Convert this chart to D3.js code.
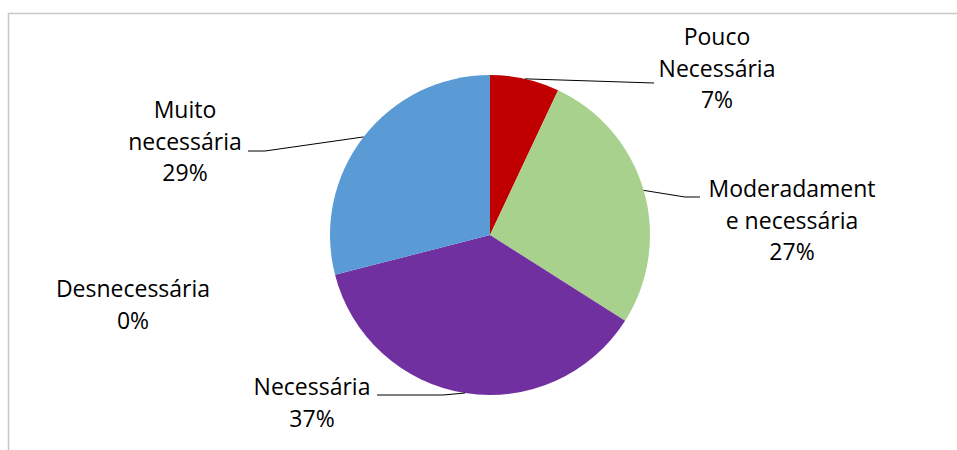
<!DOCTYPE html>
<html>
<head>
<meta charset="utf-8">
<script src="https://cdn.jsdelivr.net/npm/d3@7"></script>
<style>
  html, body { margin: 0; padding: 0; background: #fff; }
  svg { display: block; }
  text { font-family: "Open Sans", "Noto Sans", sans-serif; fill: #000; }
</style>
</head>
<body>
<svg id="chart" width="957" height="450"></svg>
<script>
// Categories in drawing order (clockwise from 12 o'clock) and their shares in %
const categories = ["Pouco Necessária", "Moderadamente necessária", "Necessária", "Desnecessária", "Muito necessária"];
const values = [7, 27, 37, 0, 29];
// Label text lines as they wrap inside each data label
const labelLines = [
  ["Pouco", "Necessária", "7%"],
  ["Moderadament", "e necessária", "27%"],
  ["Necessária", "37%"],
  ["Desnecessária", "0%"],
  ["Muito", "necessária", "29%"]
];
const colors = ["#C00000", "#A9D18E", "#7030A0", "#ED7D31", "#5B9BD5"];

// Layout: label anchors (centre x, first baseline y) and leader-line bend points
const layout = {
  cx: 490, cy: 235, r: 160,
  lineHeight: 31.6,
  labels: [
    { x: 717, y: 45, leader: [[654, 83]] },
    { x: 792, y: 197, leader: [[685, 197], [700, 197]] },
    { x: 312, y: 395, leader: [[443, 395], [377, 395]] },
    { x: 133, y: 297, leader: null },
    { x: 185, y: 118, leader: [[265, 151], [248, 151]] }
  ]
};

const svg = d3.select("#chart");

// Chart area frame
svg.append("rect")
  .attr("x", 8.5).attr("y", 13.5)
  .attr("width", 1000).attr("height", 500)
  .attr("fill", "none")
  .attr("stroke", "#c8c8c8")
  .attr("stroke-width", 1.5);

const pie = d3.pie().sort(null).value(d => d)(values);
const arc = d3.arc().innerRadius(0).outerRadius(layout.r);

const g = svg.append("g").attr("transform", `translate(${layout.cx},${layout.cy})`);

g.selectAll("path.slice")
  .data(pie)
  .join("path")
  .attr("class", "slice")
  .attr("d", arc)
  .attr("fill", (d, i) => colors[i]);

// Leader lines: from the slice's mid-angle on the rim to the label
pie.forEach((d, i) => {
  const L = layout.labels[i];
  if (!L.leader) return;
  const mid = (d.startAngle + d.endAngle) / 2;
  const start = [layout.cx + layout.r * Math.sin(mid), layout.cy - layout.r * Math.cos(mid)];
  const pts = [start].concat(L.leader);
  svg.append("path")
    .attr("d", d3.line()(pts))
    .attr("fill", "none")
    .attr("stroke", "#000")
    .attr("stroke-width", 1);
});

// Data labels
labelLines.forEach((lines, i) => {
  const L = layout.labels[i];
  const t = svg.append("text")
    .attr("text-anchor", "middle")
    .attr("font-size", 23);
  lines.forEach((s, k) => {
    t.append("tspan")
      .attr("x", L.x)
      .attr("y", L.y + k * layout.lineHeight)
      .text(s);
  });
});
</script>
</body>
</html>
